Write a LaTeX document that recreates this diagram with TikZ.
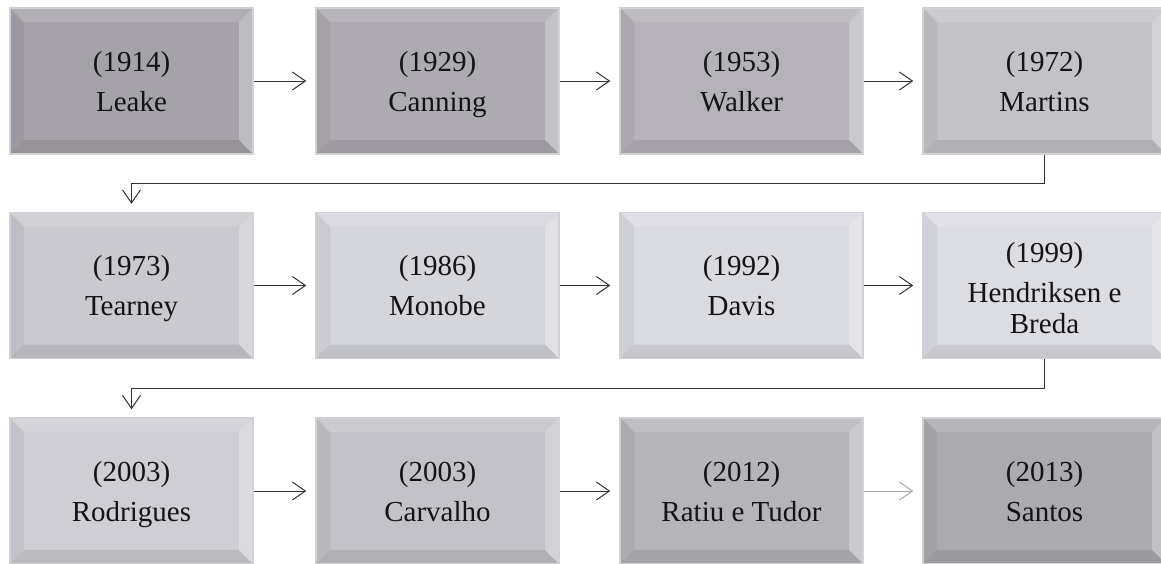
\documentclass[tikz,border=0pt]{standalone}
\usepackage{fontspec}
\setmainfont{Liberation Serif}
\usetikzlibrary{arrows.meta,calc}
\definecolor{c11}{HTML}{A5A3A9}
\definecolor{c12}{HTML}{ADABB1}
\definecolor{c13}{HTML}{B5B3B9}
\definecolor{c14}{HTML}{C3C2C7}
\definecolor{c21}{HTML}{C9C9CF}
\definecolor{c22}{HTML}{D5D5DC}
\definecolor{c23}{HTML}{DADAE1}
\definecolor{c24}{HTML}{DCDCE3}
\definecolor{c31}{HTML}{CECED4}
\definecolor{c32}{HTML}{C3C2C8}
\definecolor{c33}{HTML}{B5B4B9}
\definecolor{c34}{HTML}{ABAAAF}
\definecolor{edgec}{HTML}{D2D2D6}
\definecolor{linec}{HTML}{333333}
\definecolor{faintc}{HTML}{AAAAAA}
\newcommand{\boxfont}{\fontsize{29}{31}\selectfont}
\newcommand{\yr}[1]{\rule{0pt}{29.7pt}#1\\[9pt]}
\newcommand{\yrtall}[1]{\rule{0pt}{33.7pt}#1\\[9pt]}
\tikzset{
  bevelbox/.style={minimum width=243pt, minimum height=146pt, inner sep=0pt,
    fill=#1, draw=edgec, line width=1.5pt, align=center, font=\boxfont, text=black!92,
    path picture={
      \fill[white,opacity=.14] (path picture bounding box.north west) -- (path picture bounding box.north east)
        -- ([shift={(-14pt,-14pt)}]path picture bounding box.north east) -- ([shift={(14pt,-14pt)}]path picture bounding box.north west) -- cycle;
      \fill[black,opacity=.05] (path picture bounding box.north west) -- ([shift={(14pt,-14pt)}]path picture bounding box.north west)
        -- ([shift={(14pt,14pt)}]path picture bounding box.south west) -- (path picture bounding box.south west) -- cycle;
      \fill[white,opacity=.28] (path picture bounding box.north east) -- ([shift={(-14pt,-14pt)}]path picture bounding box.north east)
        -- ([shift={(-14pt,14pt)}]path picture bounding box.south east) -- (path picture bounding box.south east) -- cycle;
      \fill[black,opacity=.09] (path picture bounding box.south west) -- ([shift={(14pt,14pt)}]path picture bounding box.south west)
        -- ([shift={(-14pt,14pt)}]path picture bounding box.south east) -- (path picture bounding box.south east) -- cycle;
    }},
  arr/.style={draw=linec, line width=1pt, shorten >=9pt, -{Straight Barb[length=13pt,width=18pt,line width=1pt]}},
  faintarr/.style={arr, draw=faintc},
  conn/.style={draw=linec, line width=1pt, shorten >=8pt, -{Straight Barb[length=13pt,width=18pt,line width=1pt]}}
}
\begin{document}
\begin{tikzpicture}[x=1pt,y=-1pt]
\fill[white] (0,0) rectangle (1161,563);
\clip (0,0) rectangle (1161,563);
% row 1
\node[bevelbox=c11] (leake)    at (131.5,81) {\yr{(1914)}Leake\strut};
\node[bevelbox=c12] (canning)  at (437.5,81) {\yr{(1929)}Canning\strut};
\node[bevelbox=c13] (walker)   at (741.5,81) {\yr{(1953)}Walker\strut};
\node[bevelbox=c14] (martins)  at (1044.5,81) {\yr{(1972)}Martins\strut};
% row 2
\node[bevelbox=c21] (tearney)  at (131.5,285.5) {\yr{(1973)}Tearney\strut};
\node[bevelbox=c22] (monobe)   at (437.5,285.5) {\yr{(1986)}Monobe\strut};
\node[bevelbox=c23] (davis)    at (741.5,285.5) {\yr{(1992)}Davis\strut};
\node[bevelbox=c24] (hendr)    at (1044.5,285.5) {\yrtall{(1999)}Hendriksen e\\Breda\strut};
% row 3
\node[bevelbox=c31] (rodrigues) at (131.5,491) {\yr{(2003)}Rodrigues\strut};
\node[bevelbox=c32] (carvalho)  at (437.5,491) {\yr{(2003)}Carvalho\strut};
\node[bevelbox=c33] (ratiu)     at (741.5,491) {\yr{(2012)}Ratiu e Tudor\strut};
\node[bevelbox=c34] (santos)    at (1044.5,491) {\yr{(2013)}Santos\strut};
% horizontal arrows
\draw[arr] (leake) -- (canning);
\draw[arr] (canning) -- (walker);
\draw[arr] (walker) -- (martins);
\draw[arr] (tearney) -- (monobe);
\draw[arr] (monobe) -- (davis);
\draw[arr] (davis) -- (hendr);
\draw[arr] (rodrigues) -- (carvalho);
\draw[arr] (carvalho) -- (ratiu);
\draw[faintarr] (ratiu) -- (santos);
% row connectors
\coordinate (m1) at ($(leake.south)!.5!(tearney.north)$);
\coordinate (m2) at ($(tearney.south)!.5!(rodrigues.north)$);
\draw[conn] (martins.south) -- (martins.south |- m1) -- (m1) -- (tearney.north);
\draw[conn] (hendr.south) -- (hendr.south |- m2) -- (m2) -- (rodrigues.north);
\end{tikzpicture}
\end{document}
